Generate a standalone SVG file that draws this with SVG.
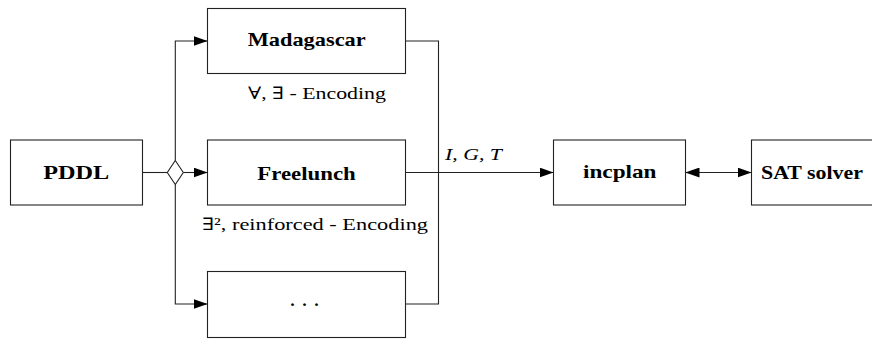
<svg xmlns="http://www.w3.org/2000/svg" width="872" height="339" viewBox="0 0 872 339">
<style>
.box{fill:#fff;stroke:#222;stroke-width:1.1}
.ln{fill:none;stroke:#222;stroke-width:1.1}
.t{font-family:"Liberation Serif",serif;font-weight:bold;font-size:19px;fill:#000}
.l{font-family:"Liberation Serif",serif;font-size:17px;fill:#000}
.sym{font-family:"DejaVu Serif",serif}
.m{font-family:"Liberation Serif",serif;font-style:italic;font-size:17px;fill:#000}
.dots{font-family:"Liberation Serif",serif;font-size:24px;fill:#000}
</style>
<defs>
<marker id="ah" markerUnits="userSpaceOnUse" markerWidth="14" markerHeight="10" refX="14" refY="5" orient="auto">
<path d="M0,0 L14,5 L0,10 z" fill="#000"/>
</marker>
<marker id="ahs" markerUnits="userSpaceOnUse" markerWidth="14" markerHeight="10" refX="0" refY="5" orient="auto">
<path d="M14,0 L0,5 L14,10 z" fill="#000"/>
</marker>
</defs>
<g id="connectors">
<path class="ln" d="M142.5,172.5 H167.3"/>
<path class="ln" d="M175.3,160.5 V41 H207.5" marker-end="url(#ah)"/>
<path class="ln" d="M183.3,172.5 H207.5" marker-end="url(#ah)"/>
<path class="ln" d="M175.3,184.5 V304 H207.5" marker-end="url(#ah)"/>
<path class="ln" d="M405.5,41 H438.5 V304 H405.5"/>
<path class="ln" d="M405.5,172.5 H553.5" marker-end="url(#ah)"/>
<text class="m" x="445" y="160" textLength="57" lengthAdjust="spacingAndGlyphs">I, G, T</text>
<path class="ln" d="M685.5,172.5 H751.5" marker-start="url(#ahs)" marker-end="url(#ah)"/>
</g>
<g id="split">
<path class="box" d="M175.3,160.5 L183.3,172.5 L175.3,184.5 L167.3,172.5 z"/>
</g>
<g id="pddl">
<rect class="box" x="10.5" y="140" width="132" height="65"/>
<text class="t" x="43.3" y="179" textLength="66" lengthAdjust="spacingAndGlyphs">PDDL</text>
</g>
<g id="madagascar">
<rect class="box" x="207.5" y="8.5" width="198" height="65"/>
<text class="t" x="247.7" y="45.5" textLength="118" lengthAdjust="spacingAndGlyphs">Madagascar</text>
<text class="l" x="248" y="99" textLength="138" lengthAdjust="spacingAndGlyphs"><tspan class="sym">∀</tspan>, <tspan class="sym">∃</tspan> - Encoding</text>
</g>
<g id="freelunch">
<rect class="box" x="207.5" y="140" width="198" height="65"/>
<text class="t" x="257.3" y="179.5" textLength="98.5" lengthAdjust="spacingAndGlyphs">Freelunch</text>
<text class="l" x="202" y="230" textLength="226" lengthAdjust="spacingAndGlyphs"><tspan class="sym">∃</tspan>², reinforced - Encoding</text>
</g>
<g id="more">
<rect class="box" x="207.5" y="271.5" width="198" height="66"/>
<text class="dots" x="304.5" y="306" text-anchor="middle">. . .</text>
</g>
<g id="incplan">
<rect class="box" x="553.5" y="140" width="132" height="65"/>
<text class="t" x="583" y="177.5" textLength="73.5" lengthAdjust="spacingAndGlyphs">incplan</text>
</g>
<g id="sat">
<rect class="box" x="751.5" y="140" width="132" height="65"/>
<text class="t" x="761" y="179" textLength="102" lengthAdjust="spacingAndGlyphs">SAT solver</text>
</g>
</svg>
